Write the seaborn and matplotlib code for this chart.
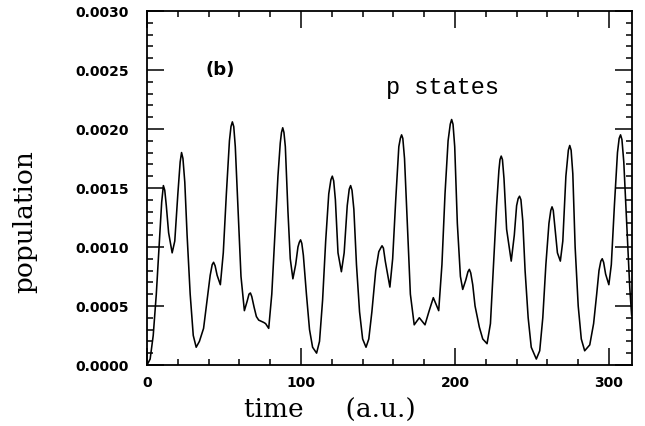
import numpy as np
import pandas as pd
import matplotlib
matplotlib.use("Agg")
import matplotlib.pyplot as plt
import seaborn as sns
from matplotlib.ticker import MultipleLocator, FormatStrFormatter

# valores (tempo em a.u., população em unidades de 1e-3)
tempo = [0, 2, 4, 6, 8, 9.5, 10.6, 11.5, 12.5, 14, 16.3, 18, 20, 21.5, 22.4, 23.3,
         24.5, 26, 28, 30, 31.9, 34, 36.7, 39, 41, 42.3, 43.2, 44.2, 45.5, 47.6,
         49.5, 51.5, 53.5, 54.5, 55.4, 56.3, 57.3, 59, 61, 63.2, 65, 66.2, 67.1,
         68, 69.5, 71, 72.5, 75.8, 77, 79, 81, 83, 85, 86.5, 87.3, 88.1, 88.9,
         89.8, 91.5, 93, 94.7, 96.5, 98, 98.9, 99.7, 100.5, 101.5, 103.5, 105.5,
         107.5, 110.1, 112, 114, 116, 118, 119.4, 120.3, 121.2, 122.3, 124, 126.2,
         128, 130, 131.3, 132.2, 133.1, 134.3, 136, 138, 140, 142.2, 144, 146,
         148.5, 150.5, 151.7, 152.6, 153.5, 154.7, 157.7, 159.5, 161.5, 163.5,
         164.5, 165.3, 166.1, 167.2, 169, 171, 173.5, 176.8, 180.5, 183, 185.9,
         189.4, 191.5, 193.5, 195.5, 196.9, 197.8, 198.7, 199.8, 201.5, 203.5, 205,
         207, 208.4, 209.3, 210.2, 211.5, 213, 215.8, 218, 220.8, 223, 225, 227,
         228.5, 229.2, 230, 230.8, 231.8, 233.5, 236.5, 238.5, 240, 241, 241.9,
         242.8, 244, 245.5, 247.5, 249.5, 252.8, 255, 257, 259, 261, 262.2, 263,
         263.8, 265, 266.5, 268.4, 270, 272, 273.6, 274.5, 275.4, 276.5, 278, 280,
         282, 284.2, 287.5, 290, 292, 293.5, 294.7, 295.6, 296.5, 297.8, 299.9,
         301.5, 303.5, 305.5, 306.6, 307.5, 308.4, 309.6, 311.5, 313.5, 314.7]
pop_e3 = [0, 0.05, 0.25, 0.6, 1.05, 1.38, 1.52, 1.48, 1.35, 1.12, 0.95, 1.05, 1.45,
          1.72, 1.80, 1.75, 1.55, 1.1, 0.6, 0.25, 0.15, 0.2, 0.31, 0.55, 0.76,
          0.85, 0.87, 0.84, 0.76, 0.68, 0.95, 1.45, 1.9, 2.02, 2.06, 2.02, 1.85,
          1.35, 0.75, 0.46, 0.54, 0.6, 0.61, 0.58, 0.49, 0.41, 0.38, 0.36, 0.35,
          0.31, 0.6, 1.1, 1.6, 1.88, 1.97, 2.01, 1.97, 1.85, 1.3, 0.9, 0.73, 0.85,
          1.0, 1.04, 1.06, 1.03, 0.93, 0.6, 0.3, 0.15, 0.10, 0.2, 0.55, 1.05, 1.45,
          1.57, 1.60, 1.56, 1.4, 0.95, 0.79, 0.95, 1.35, 1.49, 1.52, 1.48, 1.32,
          0.85, 0.45, 0.22, 0.15, 0.22, 0.45, 0.8, 0.96, 0.99, 1.01, 0.99, 0.88,
          0.66, 0.9, 1.4, 1.85, 1.92, 1.95, 1.92, 1.75, 1.2, 0.6, 0.34, 0.40, 0.34,
          0.45, 0.57, 0.46, 0.85, 1.45, 1.9, 2.04, 2.08, 2.04, 1.85, 1.2, 0.75,
          0.64, 0.72, 0.79, 0.81, 0.78, 0.68, 0.5, 0.32, 0.22, 0.18, 0.35, 0.85,
          1.35, 1.65, 1.74, 1.77, 1.74, 1.58, 1.15, 0.88, 1.1, 1.35, 1.41, 1.43,
          1.40, 1.22, 0.8, 0.4, 0.15, 0.05, 0.12, 0.4, 0.85, 1.2, 1.31, 1.34, 1.31,
          1.15, 0.95, 0.88, 1.05, 1.6, 1.82, 1.86, 1.82, 1.62, 1.0, 0.5, 0.22, 0.12,
          0.17, 0.35, 0.6, 0.8, 0.88, 0.90, 0.87, 0.77, 0.68, 0.85, 1.35, 1.8, 1.92,
          1.95, 1.91, 1.72, 1.2, 0.65, 0.42]

df = pd.DataFrame({"tempo": tempo, "pop": np.array(pop_e3) * 1e-3})

sns.set_style("ticks")
fig = plt.figure(figsize=(6.45, 4.27), dpi=100)
ax = fig.add_axes([0.228, 0.143, 0.752, 0.829])
sns.lineplot(data=df, x="tempo", y="pop", ax=ax, color="black", linewidth=1.15)

ax.set_xlim(0, 315)
ax.set_ylim(0, 0.003)
ax.xaxis.set_major_locator(MultipleLocator(100))
ax.xaxis.set_minor_locator(MultipleLocator(20))
ax.yaxis.set_major_locator(MultipleLocator(0.0005))
ax.yaxis.set_minor_locator(MultipleLocator(0.0001))
ax.yaxis.set_major_formatter(FormatStrFormatter("%.4f"))
ax.tick_params(which="both", direction="in", top=True, right=True, width=1.1,
               colors="black", labelsize=10)
ax.tick_params(which="major", length=12.5)
ax.tick_params(which="minor", length=4.5)
ax.tick_params(axis="y", pad=13)
ax.tick_params(axis="x", pad=7)
for lab in ax.get_xticklabels() + ax.get_yticklabels():
    lab.set_fontfamily("DejaVu Sans")
    lab.set_fontweight("bold")
    lab.set_color("black")
for s in ax.spines.values():
    s.set_linewidth(1.3)
    s.set_color("black")

ax.set_xlabel("time     (a.u.)", fontfamily="DejaVu Serif", fontsize=19, va="top",
              color="black")
ax.xaxis.set_label_coords(0.377, -0.09)
ax.set_ylabel("population", fontfamily="DejaVu Serif", fontsize=19, color="black")
ax.yaxis.set_label_coords(-0.227, 0.407)

# anotações
ax.text(47.5, 0.00251, "(b)", fontfamily="DejaVu Sans", fontweight="bold",
        fontsize=13, ha="center", va="center", color="black")
ax.text(192, 0.00236, "p states", fontfamily="Liberation Mono", fontsize=17,
        ha="center", va="center", color="black")

fig.savefig("out.png", dpi=100)
